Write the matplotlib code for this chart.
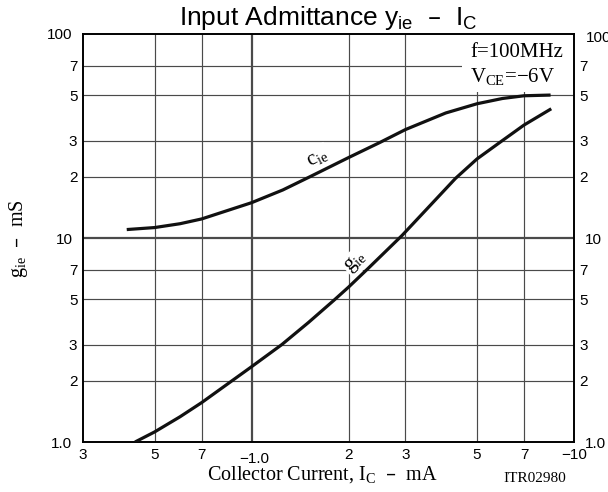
import matplotlib
matplotlib.use("Agg")
import matplotlib.pyplot as plt
from matplotlib.patches import Rectangle
from matplotlib.ticker import NullLocator
from matplotlib.transforms import ScaledTranslation

# axis ticks and labels (x is |Ic| in mA, labels as printed on the sheet)
x_ticks = [0.3, 0.5, 0.7, 1.0, 2, 3, 5, 7, 10]
x_labels = ["3", "5", "7", "−1.0", "2", "3", "5", "7", "−10"]
y_ticks = [1, 2, 3, 5, 7, 10, 20, 30, 50, 70, 100]
y_labels = ["1.0", "2", "3", "5", "7", "10", "2", "3", "5", "7", "100"]

# c_ie curve
ic_c = [0.41, 0.5, 0.6, 0.7, 1.0, 1.25, 1.52, 2.0, 2.5, 3.0, 4.0, 5.0, 6.0, 7.0, 8.46]
c_ie = [11.0, 11.25, 11.75, 12.4, 14.9, 17.2, 20.0, 24.8, 29.4, 34.0, 41.0, 45.5, 48.3, 49.8, 50.2]

# g_ie curve
ic_g = [0.435, 0.5, 0.6, 0.7, 1.0, 1.24, 1.5, 1.8, 2.0, 2.3, 2.93, 3.5, 4.29, 5.0, 5.92, 7.0, 8.5]
g_ie = [1.0, 1.12, 1.33, 1.56, 2.34, 3.0, 3.85, 4.95, 5.75, 7.1, 10.3, 13.9, 19.6, 24.4, 29.6, 35.8, 43.0]

SANS = "Liberation Sans"
SERIF = "Liberation Serif"


def main():
    fig = plt.figure(figsize=(6.08, 4.92), dpi=100)
    ax = fig.add_axes([0.1365, 0.1016, 0.8076, 0.8293])
    ax.set_xscale("log")
    ax.set_yscale("log")
    ax.set_xlim(0.3, 10)
    ax.set_ylim(1, 100)

    ax.set_xticks(x_ticks, x_labels)
    ax.set_yticks(y_ticks, y_labels)
    ax.xaxis.set_minor_locator(NullLocator())
    ax.yaxis.set_minor_locator(NullLocator())
    ax.tick_params(which="both", length=0, labelsize=11)
    ax.tick_params(axis="x", pad=4)
    ax.tick_params(axis="y", labelright=True, pad=4)
    for lab in ax.get_xticklabels() + ax.get_yticklabels():
        lab.set_fontfamily(SANS)
    for t in ax.yaxis.get_major_ticks():
        t.label2.set_fontfamily(SANS)

    # grid, decade lines heavier
    for x in x_ticks[1:-1]:
        ax.axvline(x, color="#4a4a4a", lw=1.6 if x == 1.0 else 0.85, zorder=1)
    for y in y_ticks[1:-1]:
        ax.axhline(y, color="#4a4a4a", lw=1.6 if y == 10 else 0.85, zorder=1)

    for s in ax.spines.values():
        s.set_linewidth(1.4)

    # offsets for the decade labels
    dpi = fig.dpi_scale_trans
    ticks = ax.yaxis.get_major_ticks()
    for i, y in enumerate(y_ticks):
        if y in (1, 10, 100):
            ticks[i].label1.set_transform(ticks[i].label1.get_transform() + ScaledTranslation(-5 / 100, 0, dpi))
            dx = 6 if y == 100 else 5
            dy = -3 if y == 100 else 0
            ticks[i].label2.set_transform(ticks[i].label2.get_transform() + ScaledTranslation(dx / 100, dy / 100, dpi))
    xt = ax.xaxis.get_major_ticks()
    xt[3].label1.set_transform(xt[3].label1.get_transform() + ScaledTranslation(3 / 100, -4 / 100, dpi))

    ax.plot(ic_c, c_ie, color="#111111", lw=2.3, solid_capstyle="butt", zorder=4)
    ax.plot(ic_g, g_ie, color="#111111", lw=2.3, solid_capstyle="butt", zorder=4)

    lbl = dict(family=SERIF, fontsize=15, ha="center", va="center", zorder=3,
               bbox=dict(facecolor="white", edgecolor="none", pad=1))
    ax.text(1.6, 24.9, r"$\mathregular{c_{ie}}$", rotation=27, **lbl)
    ax.text(2.1, 7.65, r"$\mathregular{g_{ie}}$", rotation=42, **lbl)

    # conditions box
    ax.add_patch(Rectangle((0.772, 0.858), 0.228, 0.142, transform=ax.transAxes,
                           facecolor="white", edgecolor="none", zorder=2))
    ax.text(0.788, 0.944, "f=100MHz", transform=ax.transAxes, family=SERIF,
            fontsize=15, va="baseline", zorder=3)
    ax.text(0.788, 0.883, r"$\mathregular{V_{CE}}$=−6V", transform=ax.transAxes,
            family=SERIF, fontsize=15, va="baseline", zorder=3)

    ax.text(0.5, 1 + 9 / 408, r"Input Admittance $\mathregular{y_{ie}}$  –  $\mathregular{I_C}$",
            transform=ax.transAxes, ha="center", va="baseline", family=SANS, fontsize=19)
    fig.text(322 / 608, 1 - 480 / 492, r"Collector Current, $\mathregular{I_C}$  –  mA",
             ha="center", va="baseline", family=SERIF, fontsize=14.5)
    fig.text(18 / 608, 1 - 239 / 492, r"$\mathregular{g_{ie}}$  –  mS", rotation=90,
             ha="center", va="center", family=SERIF, fontsize=14.5)
    fig.text(535 / 608, 1 - 479 / 492, "ITR02980", ha="center", va="center",
             family=SERIF, fontsize=11)

    fig.savefig("out.png", dpi=100)


if __name__ == "__main__":
    main()
